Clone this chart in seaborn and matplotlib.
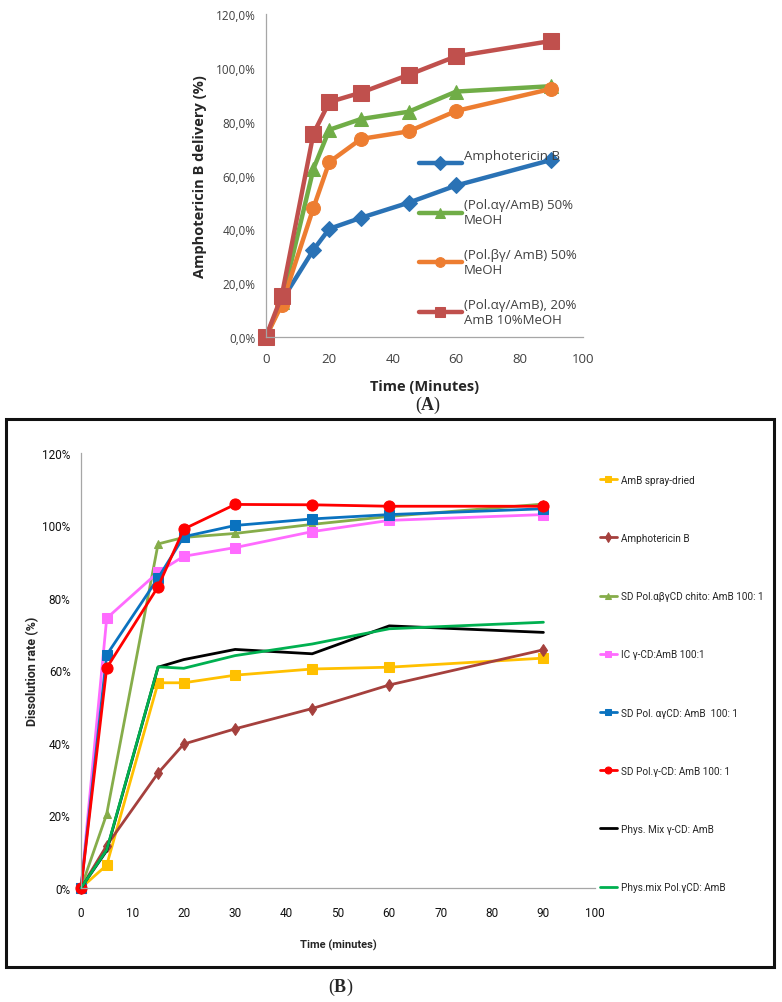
import matplotlib
matplotlib.use("Agg")
import matplotlib.pyplot as plt
import seaborn as sns
from matplotlib.ticker import FuncFormatter, MultipleLocator
from matplotlib.patches import Rectangle

time = [0, 5, 15, 20, 30, 45, 60, 90]

# panel A - delivery (%)
amb_a = [0, 13.5, 32.4, 40.2, 44.3, 49.9, 56.3, 65.8]
pol_ag_50 = [0, 13, 62.5, 77, 81, 83.7, 91.2, 93.2]
pol_bg_50 = [0, 12, 48, 65, 73.6, 76.4, 84, 92.2]
pol_ag_20 = [0, 15.3, 75.6, 87.3, 90.8, 97.4, 104.3, 110]
labels_a = ["Amphotericin B\n ", "(Pol.\u03b1\u03b3/AmB) 50%\nMeOH",
            "(Pol.\u03b2\u03b3/ AmB) 50%\nMeOH", "(Pol.\u03b1\u03b3/AmB), 20%\nAmB 10%MeOH"]
colors_a = ["#2A72B5", "#70AD47", "#ED7D31", "#C0504D"]
markers_a = ["D", "^", "o", "s"]
msize_a = [8, 10, 10, 11]

# panel B - dissolution rate (%)
spray_dried = [0, 6.3, 56.6, 56.6, 58.7, 60.4, 60.9, 63.4]
amb_b = [0, 11.7, 31.7, 39.7, 43.9, 49.5, 56.0, 65.7]
sd_abg_chito = [0, 20.4, 94.9, 96.7, 97.8, 100.3, 102.5, 105.9]
ic_g = [0, 74.4, 87.1, 91.5, 93.9, 98.3, 101.4, 103.0]
sd_ag = [0, 64.3, 85.5, 96.9, 100.0, 101.8, 103.0, 104.6]
sd_g = [0, 60.7, 83.1, 99.0, 105.8, 105.7, 105.3, 105.3]
phys_mix_g = [0, 10.3, 60.9, 63.0, 65.8, 64.6, 72.3, 70.5]
phys_mix_pol = [0, 10.5, 61.0, 60.6, 64.1, 67.3, 71.5, 73.3]
labels_b = ["AmB spray-dried", "Amphotericin B", "SD Pol.\u03b1\u03b2\u03b3CD chito: AmB 100: 1",
            "IC \u03b3-CD:AmB 100:1", "SD Pol. \u03b1\u03b3CD: AmB  100: 1",
            "SD Pol.\u03b3-CD: AmB 100: 1", "Phys. Mix \u03b3-CD: AmB", "Phys.mix Pol.\u03b3CD: AmB"]
colors_b = ["#FFC000", "#A5403D", "#86AD4A", "#FF6BFF", "#0A72BF", "#FF0000", "#000000", "#00B050"]
markers_b = ["s", "d", "^", "s", "s", "o", None, None]
msize_b = [7, 6, 6, 7, 7, 8, 0, 0]

sns.set_style("white")
plt.rcParams["font.family"] = ["Open Sans", "DejaVu Sans"]
plt.rcParams["mathtext.fontset"] = "custom"
plt.rcParams["mathtext.rm"] = "Liberation Serif"
plt.rcParams["mathtext.bf"] = "Liberation Serif:bold"

fig = plt.figure(figsize=(7.82, 10.03), dpi=100)

# ---------- panel A ----------
ax1 = fig.add_axes([0.340, 0.663, 0.4055, 0.322])
series_a = [amb_a, pol_ag_50, pol_bg_50, pol_ag_20]
for vals, lab, c, m, ms in zip(series_a, labels_a, colors_a, markers_a, msize_a):
    sns.lineplot(x=time, y=vals, ax=ax1, color=c, marker=m, markersize=ms,
                 markeredgecolor=c, linewidth=3.2, label=lab, clip_on=False)
ax1.set_xlim(0, 100)
ax1.set_ylim(0, 120)
ax1.xaxis.set_major_locator(MultipleLocator(20))
ax1.yaxis.set_major_locator(MultipleLocator(20))
ax1.yaxis.set_major_formatter(FuncFormatter(lambda v, p: f"{v:.1f}%".replace(".", ",")))
for s in ["top", "right"]:
    ax1.spines[s].set_visible(False)
for s in ["left", "bottom"]:
    ax1.spines[s].set_color("#A6A6A6")
    ax1.spines[s].set_linewidth(0.9)
ax1.tick_params(axis="both", direction="out", length=4, width=0.9, color="#A6A6A6",
                labelsize=8.5, labelcolor="#404040")
ax1.tick_params(axis="x", pad=7, labelsize=9.5)
ax1.set_xlabel("Time (Minutes)", fontsize=10.5, fontweight="bold", color="#262626", labelpad=10)
ax1.set_ylabel("Amphotericin B delivery (%)", fontsize=10.5, fontweight="bold", color="#262626", labelpad=6)
leg1 = ax1.legend(loc="upper left", bbox_to_anchor=(0.465, 0.60), frameon=False,
                  fontsize=9.5, handlelength=3.3, handletextpad=0.15, labelspacing=1.65,
                  labelcolor="#404040", borderaxespad=0)
for h in leg1.legend_handles:
    h.set_markersize(7)

fig.text(0.547, 0.596, r"($\mathbf{A}$)", ha="center", va="center", fontsize=13,
         family="Liberation Serif")

# ---------- panel B ----------
fig.patches.append(Rectangle((0.0077, 0.0349), 0.982, 0.5464, transform=fig.transFigure,
                             fill=False, edgecolor="#111111", linewidth=2.2))
narrow = ["Roboto", "DejaVu Sans"]
ax2 = fig.add_axes([0.1036, 0.1137, 0.657, 0.4337])
series_b = [spray_dried, amb_b, sd_abg_chito, ic_g, sd_ag, sd_g, phys_mix_g, phys_mix_pol]
for vals, lab, c, m, ms in zip(series_b, labels_b, colors_b, markers_b, msize_b):
    sns.lineplot(x=time, y=vals, ax=ax2, color=c, marker=m, markersize=ms,
                 markeredgecolor=c, linewidth=2.0, label=lab, clip_on=False)
ax2.set_xlim(0, 100)
ax2.set_ylim(0, 120)
ax2.xaxis.set_major_locator(MultipleLocator(10))
ax2.yaxis.set_major_locator(MultipleLocator(20))
ax2.yaxis.set_major_formatter(FuncFormatter(lambda v, p: f"{v:.0f}%"))
for s in ["top", "right"]:
    ax2.spines[s].set_visible(False)
for s in ["left", "bottom"]:
    ax2.spines[s].set_color("#A6A6A6")
    ax2.spines[s].set_linewidth(0.9)
ax2.tick_params(axis="both", direction="out", length=4, width=0.9, color="#A6A6A6",
                labelsize=8.5, labelcolor="#111111")
ax2.tick_params(axis="x", pad=9)
for t in ax2.get_xticklabels() + ax2.get_yticklabels():
    t.set_family(narrow)
ax2.set_xlabel("Time (minutes)", fontsize=8, fontweight="bold", family=narrow, labelpad=14)
ax2.set_ylabel("Dissolution rate (%)", fontsize=9, fontweight="bold", family=narrow, labelpad=2)
leg2 = ax2.legend(loc="upper left", bbox_to_anchor=(1.002, 0.959), frameon=False,
                  prop={"family": narrow, "size": 7.2}, handlelength=1.7,
                  handletextpad=0.4, labelspacing=4.82, borderaxespad=0)
for h in leg2.legend_handles:
    h.set_markersize(5)

fig.text(0.435, 0.016, r"($\mathbf{B}$)", ha="center", va="center", fontsize=13,
         family="Liberation Serif")

fig.savefig("out.png", dpi=100)
